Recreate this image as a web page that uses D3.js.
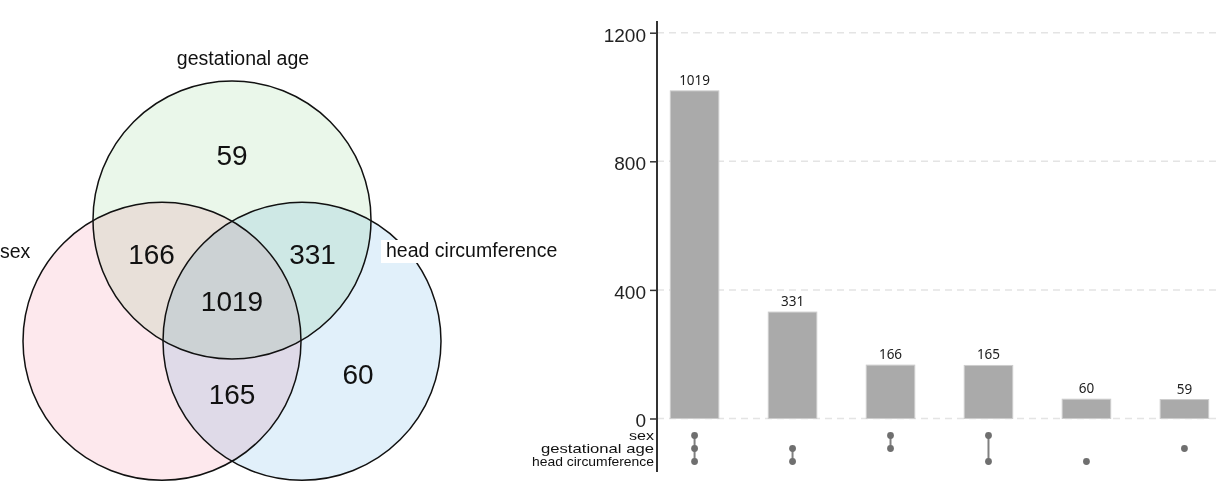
<!DOCTYPE html>
<html>
<head>
<meta charset="utf-8">
<script src="https://cdn.jsdelivr.net/npm/d3@7"></script>
<style>
  html, body { margin: 0; padding: 0; background: #fff; }
  svg { display: block; }
</style>
</head>
<body>
<svg id="chart" width="1216" height="499"></svg>
<script>
// ---------------- DATA ----------------
const sets = ["sex", "gestational age", "head circumference"];
const setColors = ["#fde8ed", "#eaf7ea", "#e1f0fa"];
// intersections (membership by set name) and their counts, as shown in the upset bars
const intersections = [
  ["sex", "gestational age", "head circumference"],
  ["gestational age", "head circumference"],
  ["sex", "gestational age"],
  ["sex", "head circumference"],
  ["head circumference"],
  ["gestational age"]
];
const counts = [1019, 331, 166, 165, 60, 59];
const yTicks = [0, 400, 800, 1200];

// ---------------- SETUP ----------------
const svg = d3.select("#chart");
const W = 1216, H = 499;

// ================= VENN (left) =================
const venn = svg.append("g");
const R = 139, D = 140;           // radius, distance between centers
const vx = 232, vTop = 220;        // top circle center
const triH = D * Math.sqrt(3) / 2;
const centers = {
  "gestational age": [vx, vTop],
  "sex": [vx - D / 2, vTop + triH],
  "head circumference": [vx + D / 2, vTop + triH]
};
const drawOrder = ["gestational age", "sex", "head circumference"];

const fillG = venn.append("g").style("isolation", "isolate");
fillG.selectAll("circle").data(drawOrder).join("circle")
  .attr("cx", d => centers[d][0]).attr("cy", d => centers[d][1]).attr("r", R)
  .attr("fill", d => setColors[sets.indexOf(d)])
  .style("mix-blend-mode", "multiply");

venn.append("g").selectAll("circle").data(drawOrder).join("circle")
  .attr("cx", d => centers[d][0]).attr("cy", d => centers[d][1]).attr("r", R)
  .attr("fill", "none").attr("stroke", "#111").attr("stroke-width", 1.5);

// region label positions from geometry
const G = [0, 1].map(i => d3.mean(sets, s => centers[s][i]));
const kBy = {1: 1.8, 2: 2.3, 3: 0};
venn.append("g").selectAll("text").data(intersections).join("text")
  .each(function (m, i) {
    const mc = [0, 1].map(k => d3.mean(m, s => centers[s][k]));
    const kk = kBy[m.length];
    d3.select(this)
      .attr("x", G[0] + kk * (mc[0] - G[0]))
      .attr("y", G[1] + kk * (mc[1] - G[1]))
      .text(counts[i]);
  })
  .attr("text-anchor", "middle").attr("dy", "0.36em")
  .attr("font-family", "'Liberation Sans', Arial, sans-serif")
  .attr("font-size", 28).attr("fill", "#111");

// set labels
const labFont = "'Liberation Sans', Arial, sans-serif";
venn.append("text").attr("x", centers["gestational age"][0] + 11).attr("y", vTop - R - 16)
  .attr("text-anchor", "middle").attr("font-family", labFont).attr("font-size", 19.5)
  .attr("fill", "#111").text(sets[1]);
venn.append("text").attr("x", 0).attr("y", 258)
  .attr("font-family", labFont).attr("font-size", 19.5).attr("fill", "#111").text(sets[0]);
const hcG = venn.append("g");
const hcRect = hcG.append("rect").attr("fill", "#fff");
const hcText = hcG.append("text").attr("x", 386).attr("y", 257)
  .attr("font-family", labFont).attr("font-size", 19.5).attr("fill", "#111").text(sets[2]);
const bb = hcText.node().getBBox();
hcRect.attr("x", bb.x - 5).attr("y", 240).attr("width", bb.width + 8).attr("height", 23);

// ================= UPSET (right) =================
const up = svg.append("g");
const axisX = 657;
const y = d3.scaleLinear().domain([0, 1200]).range([418.5, 32.7]);
const x = d3.scaleBand().domain(d3.range(counts.length))
  .range([axisX, 1222]).paddingInner(0.505).paddingOuter(0.136);
const rowY = d3.scalePoint().domain(sets).range([435.5, 461.5]);

// gridlines
up.append("g").selectAll("line").data(yTicks).join("line")
  .attr("x1", axisX).attr("x2", W)
  .attr("y1", d => y(d)).attr("y2", d => y(d))
  .attr("stroke", "#e4e4e4").attr("stroke-width", 1.5).attr("stroke-dasharray", "7,5");

// bars
up.append("g").selectAll("rect").data(counts).join("rect")
  .attr("x", (d, i) => x(i)).attr("width", x.bandwidth())
  .attr("y", d => y(d)).attr("height", d => y(0) - y(d))
  .attr("fill", "#aaaaaa").attr("stroke", "#cdcdcd").attr("stroke-width", 1);

// bar labels
up.append("g").selectAll("text").data(counts).join("text")
  .attr("x", (d, i) => x(i) + x.bandwidth() / 2).attr("y", d => y(d) - 6)
  .attr("text-anchor", "middle").attr("font-family", "'Noto Sans', 'Open Sans', sans-serif")
  .attr("font-size", 13.5).attr("fill", "#222").text(d => d);

// y axis
const yAxis = d3.axisLeft(y).tickValues(yTicks).tickFormat(d3.format("d")).tickSize(7).tickPadding(4);
const ax = up.append("g").attr("transform", `translate(${axisX},0)`).call(yAxis);
ax.select(".domain").remove();
ax.selectAll(".tick line").attr("stroke", "#333").attr("stroke-width", 1.5);
ax.selectAll(".tick text").attr("font-family", "'Liberation Sans', Arial, sans-serif")
  .attr("font-size", 19).attr("fill", "#222").attr("dy", "0.44em");
up.append("line").attr("x1", axisX).attr("x2", axisX).attr("y1", 21).attr("y2", 472)
  .attr("stroke", "#333").attr("stroke-width", 2);

// matrix row labels
const rowWidths = [25, 113, 122];
up.append("g").selectAll("text").data(sets).join("text")
  .attr("x", 654).attr("y", d => rowY(d)).attr("dy", "0.35em")
  .attr("text-anchor", "end").attr("font-family", "'Liberation Sans', Arial, sans-serif")
  .attr("font-size", 13).attr("fill", "#111")
  .attr("textLength", (d, i) => rowWidths[i]).attr("lengthAdjust", "spacingAndGlyphs")
  .text(d => d);

// matrix dots + connectors
const mat = up.append("g");
intersections.forEach((m, i) => {
  const cx = x(i) + x.bandwidth() / 2;
  const ys = m.map(s => rowY(s));
  if (m.length > 1) {
    mat.append("line").attr("x1", cx).attr("x2", cx)
      .attr("y1", d3.min(ys)).attr("y2", d3.max(ys))
      .attr("stroke", "#808080").attr("stroke-width", 2);
  }
  mat.selectAll(null).data(m).join("circle")
    .attr("cx", cx).attr("cy", s => rowY(s)).attr("r", 3.4).attr("fill", "#6f6f6f");
});
</script>
</body>
</html>
